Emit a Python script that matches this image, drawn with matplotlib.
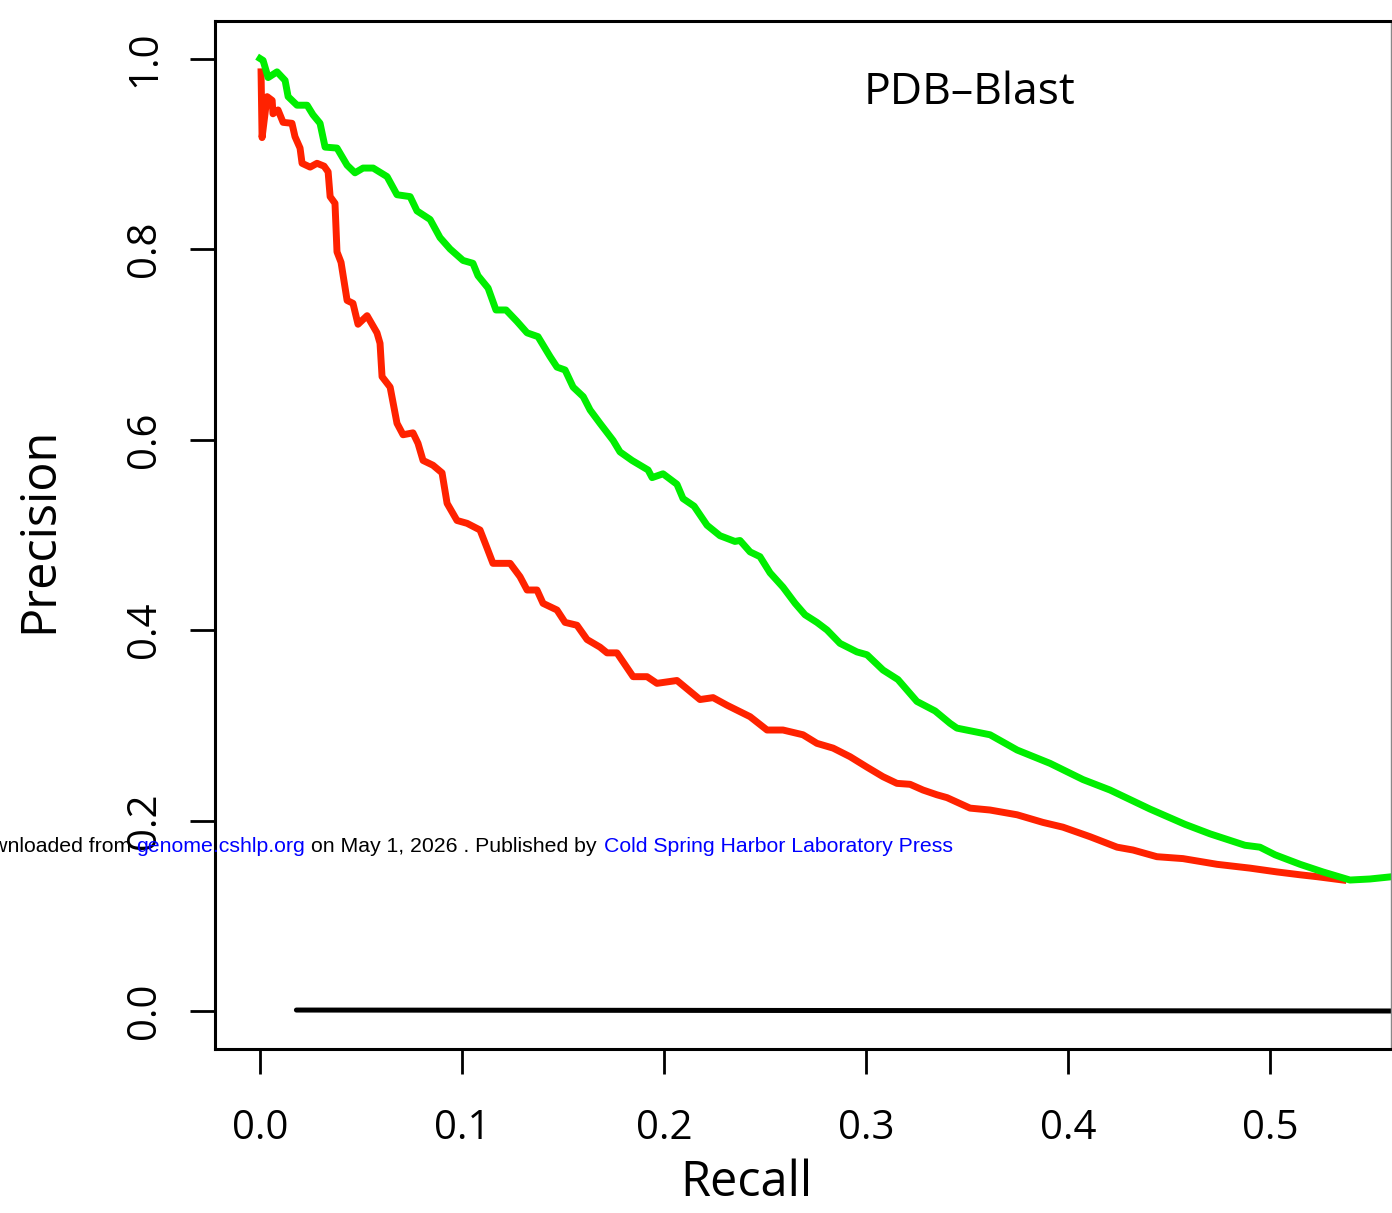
import matplotlib
matplotlib.use('Agg')
import matplotlib.pyplot as plt

# Curve data (recall, precision)
green_recall = [0.000, 0.0015, 0.004, 0.0084, 0.0124, 0.0139, 0.0183, 0.0233, 0.0262, 0.0297,
                0.0322, 0.0381, 0.0431, 0.047, 0.051, 0.056, 0.0629, 0.0678, 0.0743, 0.0777,
                0.0842, 0.0891, 0.0941, 0.1005, 0.1054, 0.1079, 0.1129, 0.1168, 0.1218, 0.1272,
                0.1322, 0.1376, 0.1436, 0.147, 0.151, 0.155, 0.160, 0.1634, 0.1683, 0.1748,
                0.1782, 0.1842, 0.1921, 0.1941, 0.1995, 0.2064, 0.2094, 0.2149, 0.2213, 0.2277,
                0.2351, 0.2376, 0.2426, 0.2475, 0.2525, 0.2589, 0.2649, 0.2698, 0.2757, 0.2807,
                0.2871, 0.2955, 0.3005, 0.3084, 0.3158, 0.3252, 0.3342, 0.3416, 0.345, 0.3614,
                0.3748, 0.3911, 0.4074, 0.4208, 0.4406, 0.4579, 0.4703, 0.4876, 0.495, 0.5025,
                0.5149, 0.5262, 0.5396, 0.5495, 0.5604]
green_precision = [1.000, 0.998, 0.980, 0.986, 0.977, 0.960, 0.951, 0.951, 0.941, 0.932,
                   0.907, 0.906, 0.888, 0.880, 0.885, 0.885, 0.876, 0.857, 0.855, 0.840,
                   0.831, 0.812, 0.800, 0.788, 0.785, 0.772, 0.759, 0.736, 0.736, 0.724,
                   0.712, 0.708, 0.687, 0.676, 0.673, 0.655, 0.645, 0.631, 0.617, 0.599,
                   0.587, 0.578, 0.568, 0.560, 0.564, 0.553, 0.538, 0.530, 0.510, 0.499,
                   0.493, 0.494, 0.482, 0.477, 0.460, 0.445, 0.428, 0.416, 0.408, 0.400,
                   0.386, 0.377, 0.374, 0.358, 0.348, 0.325, 0.315, 0.302, 0.297, 0.290,
                   0.274, 0.260, 0.243, 0.232, 0.212, 0.196, 0.186, 0.174, 0.172, 0.164,
                   0.154, 0.146, 0.1375, 0.1386, 0.141]

red_recall = [0.0005, 0.001, 0.0035, 0.006, 0.0064, 0.0089, 0.0114, 0.0158, 0.0173, 0.0198,
              0.0208, 0.0248, 0.0282, 0.0317, 0.0337, 0.0347, 0.0371, 0.0381, 0.0401, 0.0431,
              0.046, 0.0485, 0.053, 0.0579, 0.0594, 0.0604, 0.0644, 0.0678, 0.0708, 0.0757,
              0.0782, 0.0807, 0.0856, 0.0901, 0.0926, 0.0975, 0.1025, 0.1089, 0.1124, 0.1153,
              0.1238, 0.1287, 0.1322, 0.1371, 0.1401, 0.147, 0.151, 0.1569, 0.1619, 0.1683,
              0.1718, 0.1767, 0.1847, 0.1916, 0.1965, 0.2064, 0.2178, 0.2243, 0.2312, 0.2426,
              0.251, 0.2589, 0.2688, 0.2757, 0.2837, 0.2921, 0.3005, 0.3084, 0.3153, 0.3218,
              0.3282, 0.3351, 0.3401, 0.3515, 0.3614, 0.3748, 0.3876, 0.3975, 0.4109, 0.4243,
              0.4322, 0.444, 0.4569, 0.4738, 0.4901, 0.5035, 0.5149, 0.5233, 0.5361]
red_precision = [0.986, 0.917, 0.960, 0.956, 0.942, 0.946, 0.933, 0.932, 0.918, 0.906,
                 0.890, 0.886, 0.890, 0.887, 0.881, 0.855, 0.848, 0.797, 0.786, 0.746,
                 0.743, 0.721, 0.730, 0.712, 0.701, 0.666, 0.655, 0.617, 0.605, 0.607,
                 0.596, 0.578, 0.573, 0.565, 0.533, 0.515, 0.512, 0.505, 0.486, 0.470,
                 0.470, 0.456, 0.442, 0.442, 0.428, 0.421, 0.408, 0.405, 0.390, 0.382,
                 0.376, 0.376, 0.351, 0.351, 0.344, 0.347, 0.327, 0.329, 0.321, 0.309,
                 0.295, 0.295, 0.290, 0.281, 0.276, 0.267, 0.256, 0.246, 0.239, 0.238,
                 0.232, 0.227, 0.224, 0.213, 0.211, 0.206, 0.198, 0.193, 0.183, 0.172,
                 0.169, 0.162, 0.160, 0.154, 0.150, 0.146, 0.143, 0.141, 0.1375]

black_recall = [0.018, 0.56]
black_precision = [0.001, 0.0]

x_ticks = [0.0, 0.1, 0.2, 0.3, 0.4, 0.5]
y_ticks = [0.0, 0.2, 0.4, 0.6, 0.8, 1.0]

font = ['Open Sans', 'DejaVu Sans']
W, H = 1392, 1213

fig = plt.figure(figsize=(W / 100, H / 100), dpi=100)
ax = fig.add_axes([215 / W, (H - 1049) / H, (1391 - 215) / W, (1049 - 21) / H])

ax.plot(black_recall, black_precision, color='black', lw=3.6, solid_capstyle='round')
ax.plot(green_recall, green_precision, color='#00ee00', lw=5, solid_joinstyle='round')
ax.plot(red_recall, red_precision, color='#ff2200', lw=5, solid_joinstyle='round', zorder=1.9)

ax.set_xlim(-0.0223, 0.5599)
ax.set_ylim(-0.0399, 1.0394)

for side in ['left', 'bottom', 'top']:
    ax.spines[side].set_linewidth(2.2)
    ax.spines[side].set_color('black')
ax.spines['right'].set_linewidth(1.0)
ax.spines['right'].set_color('#888888')

ax.set_xticks(x_ticks)
ax.set_xticklabels([f'{v:.1f}' for v in x_ticks], family=font, fontsize=29)
ax.set_yticks(y_ticks)
ax.set_yticklabels([f'{v:.1f}' for v in y_ticks], family=font, fontsize=29,
                   rotation=90, va='center')
ax.tick_params(axis='both', direction='out', length=18, width=2.0, color='black')
ax.tick_params(axis='x', pad=25)
ax.tick_params(axis='y', pad=18)

fig.text(746 / W, (H - 1183) / H, 'Recall', family=font, fontsize=35,
         ha='center', va='center')
fig.text(40 / W, (H - 530) / H, 'Precision', family=font, fontsize=35,
         rotation=90, ha='center', va='center')
fig.text(969 / W, (H - 93) / H, 'PDB\u2013Blast', family=font, fontsize=32,
         ha='center', va='center')

# watermark line
wy = (H - 846) / H
wfont = ['Liberation Sans', 'DejaVu Sans']
wsize = 15.3
fig.text(131 / W, wy, 'Downloaded from', family=wfont, fontsize=wsize,
         ha='right', va='center', color='black')
fig.text(136 / W, wy, 'genome.cshlp.org', family=wfont, fontsize=wsize,
         ha='left', va='center', color='#0000ff')
fig.text(311 / W, wy, 'on May 1, 2026 . Published by', family=wfont, fontsize=wsize,
         ha='left', va='center', color='black')
fig.text(604 / W, wy, 'Cold Spring Harbor Laboratory Press', family=wfont, fontsize=wsize,
         ha='left', va='center', color='#0000ff')

fig.savefig('out.png', dpi=100)
